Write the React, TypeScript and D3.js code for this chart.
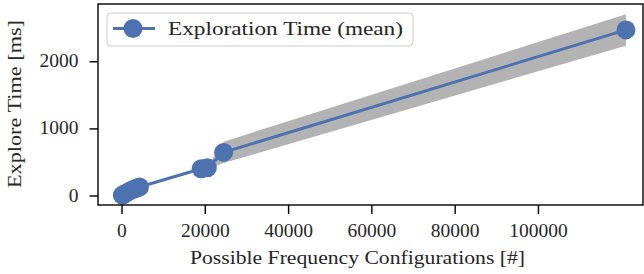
import * as d3 from "d3";

// Measured points (configurations -> exploration time)
const configs = [100, 500, 1200, 2000, 2800, 3600, 4200, 19000, 20500, 24400, 121000];
const meanTime = [10, 25, 50, 80, 100, 120, 135, 405, 420, 650, 2475];
const stdTime = [2, 4, 6, 8, 10, 12, 14, 18, 25, 160, 235];

const xTicks = [0, 20000, 40000, 60000, 80000, 100000];
const yTicks = [0, 1000, 2000];

const seriesLabel = "Exploration Time (mean)";
const xLabel = "Possible Frequency Configurations [#]";
const yLabel = "Explore Time [ms]";

const W = 644;
const H = 274;
const margin = { top: 4, right: 1, bottom: 69, left: 98 };
const blue = "#4c72b0";
const font = "'Liberation Serif', serif";
const textColor = "#262626";

const App = () => {
  const x = d3.scaleLinear().domain([-5760, 125100]).range([margin.left, W - margin.right]);
  const y = d3.scaleLinear().domain([-134, 2861]).range([H - margin.bottom, margin.top]);

  const pts = configs.map((c, i) => ({ c, m: meanTime[i], s: stdTime[i] }));

  const band = d3
    .area<{ c: number; m: number; s: number }>()
    .x(d => x(d.c))
    .y0(d => y(d.m - d.s))
    .y1(d => y(d.m + d.s));

  const line = d3
    .line<{ c: number; m: number; s: number }>()
    .x(d => x(d.c))
    .y(d => y(d.m));

  const bottom = H - margin.bottom;
  const left = margin.left;

  return (
    <div style={{ position: "fixed", left: 0, top: 0 }}>
      <svg width={W} height={H} style={{ display: "block", background: "white" }}>
        <path d={band(pts) ?? ""} fill="#b3b3b3" stroke="none" />
        <path d={line(pts) ?? ""} fill="none" stroke={blue} strokeWidth={3} />
        {pts.map((d, i) => (
          <circle key={i} cx={x(d.c)} cy={y(d.m)} r={9.5} fill={blue} />
        ))}

        {/* spines */}
        <rect
          x={left}
          y={margin.top}
          width={W - margin.right - left}
          height={bottom - margin.top}
          fill="none"
          stroke="black"
          strokeWidth={1.4}
        />

        {/* x axis */}
        {xTicks.map(t => (
          <g key={t} transform={`translate(${x(t)},${bottom})`}>
            <line y2={9} stroke="black" strokeWidth={1.4} />
            <text y={31.5} textAnchor="middle" fontFamily={font} fontSize={19.5} fill={textColor}>
              {t}
            </text>
          </g>
        ))}
        <text
          x={357.5}
          y={264}
          textAnchor="middle"
          fontFamily={font}
          fontSize={19.5}
          fill={textColor}
          textLength={335}
          lengthAdjust="spacingAndGlyphs"
        >
          {xLabel}
        </text>

        {/* y axis */}
        {yTicks.map(t => (
          <g key={t} transform={`translate(${left},${y(t)})`}>
            <line x2={-8.5} stroke="black" strokeWidth={1.4} />
            <text x={-19.5} y={5.5} textAnchor="end" fontFamily={font} fontSize={19.5} fill={textColor}>
              {t}
            </text>
          </g>
        ))}
        <text
          transform={`translate(21,104) rotate(-90)`}
          textAnchor="middle"
          fontFamily={font}
          fontSize={19.5}
          fill={textColor}
          textLength={168}
          lengthAdjust="spacingAndGlyphs"
        >
          {yLabel}
        </text>

        {/* legend */}
        <rect x={107} y={13} width={306} height={33} rx={4} fill="white" fillOpacity={0.8} stroke="#cccccc" strokeWidth={1} />
        <line x1={113} x2={155} y1={28.5} y2={28.5} stroke={blue} strokeWidth={3} />
        <circle cx={133} cy={28.5} r={9.5} fill={blue} />
        <text
          x={168}
          y={34.5}
          fontFamily={font}
          fontSize={19.5}
          fill={textColor}
          textLength={235}
          lengthAdjust="spacingAndGlyphs"
        >
          {seriesLabel}
        </text>
      </svg>
    </div>
  );
};

export default App;
